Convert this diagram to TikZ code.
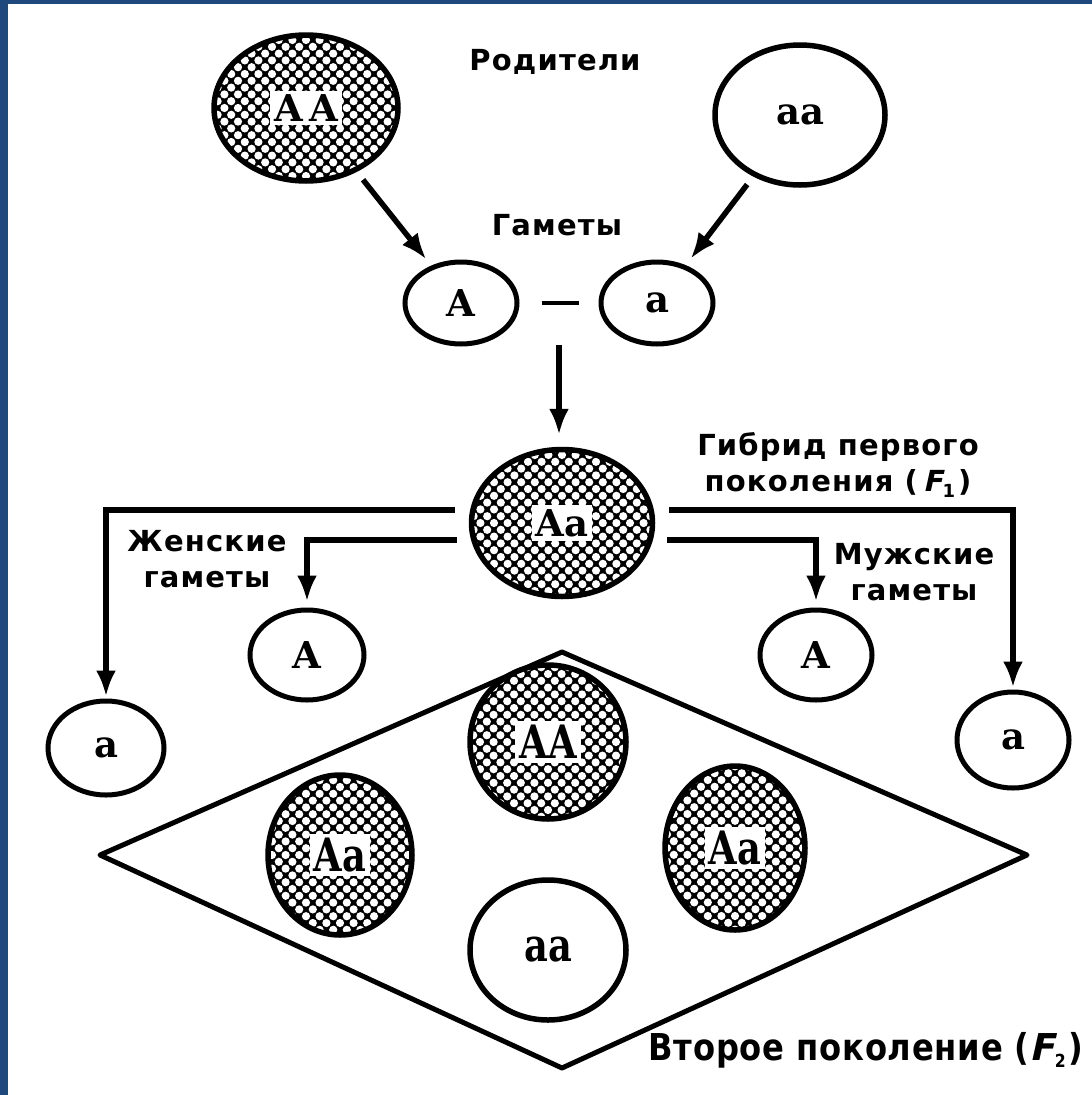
\documentclass[tikz,border=0pt]{standalone}
\usepackage{fontspec}
\setmainfont{DejaVu Sans}[LetterSpace=4]
\newfontfamily\condfont[FakeStretch=0.87,LetterSpace=2]{DejaVu Sans}
\newfontfamily\slfont[FakeSlant=0.22]{DejaVu Sans}
\newfontfamily\letfont{DejaVu Serif}
\newfontfamily\letcondfont[FakeStretch=0.8]{DejaVu Serif}
\usetikzlibrary{shapes.geometric,arrows.meta,calc}
\definecolor{frameblue}{RGB}{31,73,125}
\newcommand{\gen}[1]{{\slfont\bfseries F}\raisebox{-0.35ex}{\fontsize{18}{18}\selectfont #1}\kern3pt}

\tikzset{
  oval/.style={ellipse, draw, line width=5.5pt, inner sep=0pt,
    font=\letfont\bfseries\fontsize{37}{37}\selectfont},
  mesh/.style={oval, path picture={
      \fill[black] (path picture bounding box.south west) rectangle (path picture bounding box.north east);
      \begin{scope}[shift={(path picture bounding box.center)}]
        \foreach \i in {-7,...,7}
          \foreach \j in {-7,...,7} {
            \fill[white] (\i*13.6,\j*13.6) circle (4.1);
            \fill[white] (\i*13.6+6.8,\j*13.6+6.8) circle (4.1);
          }
      \end{scope}}},
  white box/.style={fill=white, inner sep=4pt, font=\letfont\bfseries\fontsize{37}{37}\selectfont},
  tall box/.style={white box, font=\letcondfont\bfseries\fontsize{46}{46}\selectfont},
  lbl/.style={font=\bfseries\fontsize{29}{36}\selectfont, align=center},
  arr/.style={line width=5.5pt, -{Latex[length=26pt,width=20pt]}},
}

\begin{document}
\begin{tikzpicture}[x=1pt,y=-1pt]
\useasboundingbox (0,0) rectangle (1092,1095);
\fill[white] (0,0) rectangle (1092,1095);
\fill[frameblue] (0,0) rectangle (8,1095);
\fill[frameblue] (0,0) rectangle (1092,4);

% parents and their gametes
\node[mesh, minimum width=184pt, minimum height=146pt, label={[white box]center:A\,A}] (P1) at (306,108) {};
\node[oval, minimum width=170pt, minimum height=140pt] (P2) at (800,115) {aa};
\node[lbl] (parents) at (555,62) {Родители};
\node[lbl] (gam) at (557,225) {Гаметы};
\node[oval, line width=5pt, minimum width=112pt, minimum height=82pt] (G1) at (461,303) {A};
\node[oval, line width=5pt, minimum width=112pt, minimum height=82pt] (G2) at (657,303) {a};

\draw[arr, shorten <=10pt, shorten >=8pt] (P1) -- (G1);
\draw[arr, shorten <=10pt, shorten >=8pt] (P2) -- (G2);
\draw[line width=4pt, shorten <=22pt, shorten >=20pt] (G1) -- (G2);

% first generation
\node[mesh, minimum width=181pt, minimum height=147pt, label={[white box]center:Aa}] (F1) at (562,523) {};
\coordinate (zyg) at ($(G1)!0.5!(G2)+(0,42)$);
\draw[arr, shorten >=12pt] (zyg) -- (zyg |- F1.north);
\node[lbl] (hybrid) at (838,465) {Гибрид первого\\поколения (\,\gen{1})};

% gametes of the hybrid
\node[oval, line width=5pt, minimum width=114pt, minimum height=90pt] (fA) at (307,655) {A};
\node[oval, line width=5pt, minimum width=116pt, minimum height=94pt] (fa) at (106,748) {a};
\node[oval, line width=5pt, minimum width=112pt, minimum height=90pt] (mA) at (816,655) {A};
\node[oval, line width=5pt, minimum width=112pt, minimum height=96pt] (ma) at (1013,740) {a};
\node[lbl] (fem) at (207,559) {Женские\\гаметы};
\node[lbl] (male) at (914,572) {Мужские\\гаметы};

\draw[arr, shorten >=2pt] ($(F1.west)+(-14,-13)$) -| (fa);
\draw[arr, shorten >=6pt] ($(F1.west)+(-12,17)$) -| (fA);
\draw[arr, shorten >=2pt] ($(F1.east)+(14,-13)$) -| (ma);
\draw[arr, shorten >=6pt] ($(F1.east)+(12,17)$) -| (mA);

% second generation
\draw[line width=5pt, line join=round] (100,855) -- (562,652) -- (1027,855) -- (562,1068) -- cycle;
\node[mesh, minimum width=156pt, minimum height=154pt, label={[tall box]center:AA}] (F2AA) at (548,742) {};
\node[mesh, minimum width=144pt, minimum height=160pt, label={[tall box]center:Aa}] (F2Aa) at (340,855) {};
\node[mesh, minimum width=140pt, minimum height=164pt, label={[tall box]center:Aa}] (F2aA) at (735,848) {};
\node[oval, minimum width=156pt, minimum height=140pt, font=\letcondfont\bfseries\fontsize{46}{46}\selectfont] (F2aa) at (548,950) {aa};
\node[lbl, font=\condfont\bfseries\fontsize{37}{40}\selectfont] (second) at (866,1050) {Второе поколение (\gen{2})};
\end{tikzpicture}
\end{document}
